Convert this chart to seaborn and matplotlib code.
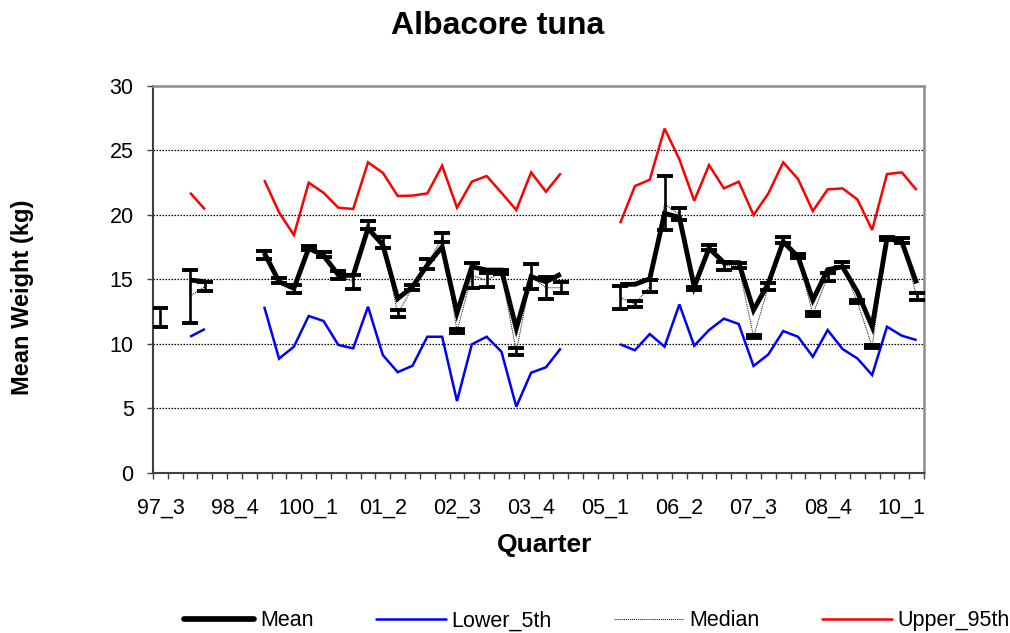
import numpy as np
import pandas as pd
import matplotlib
matplotlib.use("Agg")
import matplotlib.pyplot as plt
import seaborn as sns
from matplotlib.lines import Line2D

nan = np.nan

# ---- categories (quarters 97_3 .. 10_2) ----
years = ["97"] * 2 + ["98"] * 4 + ["99"] * 4 + ["100"] * 4 + ["01"] * 4 + ["02"] * 4 + \
        ["03"] * 4 + ["04"] * 4 + ["05"] * 4 + ["06"] * 4 + ["07"] * 4 + ["08"] * 4 + \
        ["09"] * 4 + ["10"] * 2
qtrs = [3, 4] + [1, 2, 3, 4] * 12 + [1, 2]
quarters = [f"{y}_{q}" for y, q in zip(years, qtrs)]

mean_w = [12.0, nan, 14.95, 14.82, nan, nan, nan, 17.07, 14.82, 14.3,
          17.41, 16.85, 15.34, 15.3, 18.96, 17.67, 13.5, 14.43, 16.11, 17.53,
          12.4, 15.98, 15.72, 15.72, 11.2, 15.21, 14.82, 15.41, nan, nan,
          nan, 14.6, 14.62, 15.04, 20.12, 19.81, 14.43, 17.41, 16.3, 16.3,
          12.62, 14.69, 17.92, 16.76, 13.4, 15.75, 15.98, 14.04, 11.33, 18.18,
          17.92, 14.69]
median_w = [12.0, nan, 13.7, 14.45, nan, nan, nan, 16.9, 14.9, 14.25,
            17.45, 16.95, 15.35, 14.8, 19.2, 17.85, 12.35, 14.35, 16.15, 18.25,
            10.98, 15.3, 14.95, 15.55, 9.4, 15.2, 14.35, 14.35, nan, nan,
            nan, 13.6, 13.08, 14.45, 20.85, 20.05, 14.3, 17.5, 16.05, 16.05,
            10.55, 14.43, 18.05, 16.8, 12.3, 15.2, 16.15, 13.27, 9.78, 18.18,
            18.0, 13.68]
ci_low = [11.3, nan, 11.6, 14.1, nan, nan, nan, 16.6, 14.7, 13.95,
          17.28, 16.76, 15.0, 14.23, 18.88, 17.41, 12.1, 14.17, 15.78, 17.92,
          10.81, 14.31, 14.43, 15.41, 9.13, 14.25, 13.45, 13.96, nan, nan,
          nan, 12.68, 12.83, 13.99, 18.83, 19.6, 14.2, 17.28, 15.72, 15.86,
          10.43, 14.17, 17.84, 16.63, 12.16, 14.9, 15.93, 13.14, 9.65, 18.05,
          17.8, 13.4]
ci_high = [12.8, nan, 15.7, 14.8, nan, nan, nan, 17.2, 15.1, 14.55,
           17.6, 17.15, 15.67, 15.34, 19.55, 18.31, 12.62, 14.56, 16.56, 18.57,
           11.15, 16.3, 15.47, 15.72, 9.65, 16.19, 15.21, 14.77, nan, nan,
           nan, 14.48, 13.32, 14.95, 23.04, 20.51, 14.4, 17.67, 16.37, 16.24,
           10.68, 14.69, 18.26, 16.97, 12.44, 15.47, 16.37, 13.4, 9.91, 18.31,
           18.18, 13.96]
lower_5th = [nan, nan, 10.55, 11.15, nan, nan, nan, 12.88, 8.85, 9.78,
             12.16, 11.77, 9.91, 9.65, 12.88, 9.13, 7.8, 8.3, 10.55, 10.55,
             5.56, 9.96, 10.55, 9.39, 5.12, 7.76, 8.18, 9.65, nan, nan,
             nan, 9.97, 9.5, 10.76, 9.78, 13.06, 9.85, 11.07, 11.95, 11.54,
             8.28, 9.18, 10.99, 10.55, 9.0, 11.07, 9.6, 8.87, 7.58, 11.33,
             10.63, 10.29]
upper_95th = [nan, nan, 21.72, 20.43, nan, nan, nan, 22.71, 20.2, 18.44,
              22.5, 21.72, 20.56, 20.46, 24.08, 23.27, 21.47, 21.5, 21.67, 23.82,
              20.56, 22.58, 23.02, 21.72, 20.38, 23.3, 21.8, 23.23, nan, nan,
              nan, 19.35, 22.24, 22.73, 26.7, 24.31, 21.1, 23.87, 22.06, 22.58,
              19.99, 21.67, 24.08, 22.79, 20.3, 21.98, 22.06, 21.21, 18.83, 23.17,
              23.3, 21.93]

y_ticks = [0, 5, 10, 15, 20, 25, 30]
label_every = 5

# ---- figure ----
sns.set_theme(style="white")
plt.rcParams["font.family"] = ["Liberation Sans", "DejaVu Sans"]
plt.rcParams["text.color"] = "black"
plt.rcParams["axes.labelcolor"] = "black"
plt.rcParams["xtick.color"] = "black"
plt.rcParams["ytick.color"] = "black"

fig = plt.figure(figsize=(10.10, 6.33), dpi=100)
ax = fig.add_axes([0.1515, 0.2532, 0.7634, 0.6109])

x = np.arange(len(quarters))
df = pd.DataFrame({"x": x, "Mean": mean_w, "Lower_5th": lower_5th,
                   "Median": median_w, "Upper_95th": upper_95th,
                   "lo": ci_low, "hi": ci_high})
# segment id so lines break at gaps
valid = df["Mean"].notna()
df["seg"] = (valid != valid.shift()).cumsum()

styles = {
    "Mean": dict(color="black", lw=3.5, ls="-"),
    "Lower_5th": dict(color="#0000ff", lw=1.8, ls="-"),
    "Median": dict(color="black", lw=0.7, ls=(0, (1, 1))),
    "Upper_95th": dict(color="#ff0000", lw=1.8, ls="-"),
}
order = ["Mean", "Lower_5th", "Median", "Upper_95th"]
zo = {"Mean": 3, "Lower_5th": 2, "Median": 4, "Upper_95th": 2}

for name in order:
    st = styles[name]
    for seg, sub in df.groupby("seg"):
        sub = sub.dropna(subset=[name])
        if len(sub) < 2:
            continue
        sns.lineplot(data=sub, x="x", y=name, ax=ax, color=st["color"],
                     linewidth=st["lw"], linestyle=st["ls"], legend=False,
                     zorder=zo[name], solid_joinstyle="miter", solid_capstyle="butt")

# error bars around the median
eb = df.dropna(subset=["Median"])
ax.errorbar(eb["x"], eb["Median"],
            yerr=[eb["Median"] - eb["lo"], eb["hi"] - eb["Median"]],
            fmt="none", ecolor="black", elinewidth=1.9, capsize=5.5, capthick=2.8,
            zorder=5)

# axes styling
ax.set_xlim(-0.5, len(quarters) - 0.5)
ax.set_ylim(0, 30)
ax.set_yticks(y_ticks)
ax.set_yticklabels([str(t) for t in y_ticks])
ax.set_xticks(x[::label_every])
ax.set_xticklabels(quarters[::label_every])
ax.set_xticks(np.arange(-0.5, len(quarters), 1), minor=True)
ax.tick_params(axis="x", which="major", length=0, pad=18, labelsize=15.5)
ax.tick_params(axis="x", which="minor", length=4, width=1, color="#404040",
               direction="out", bottom=True)
ax.tick_params(axis="y", which="major", length=4, width=1, color="#404040",
               direction="out", left=True, pad=10, labelsize=15.5)

for yv in y_ticks[1:-1]:
    ax.axhline(yv, color="black", lw=0.9, ls=(0, (1.2, 1.2)), zorder=1)

for s in ["left", "bottom"]:
    ax.spines[s].set_color("#404040")
    ax.spines[s].set_linewidth(1.5)
for s in ["top", "right"]:
    ax.spines[s].set_color("#8c8c8c")
    ax.spines[s].set_linewidth(1.8)

ax.set_xlabel("")
ax.set_ylabel("")
fig.text(0.539, 0.139, "Quarter", ha="center", va="center",
         fontsize=19, fontweight="bold")
fig.text(0.022, 0.531, "Mean Weight (kg)", ha="center", va="center",
         rotation=90, fontsize=17, fontweight="bold")
fig.text(0.493, 0.959, "Albacore tuna", ha="center", va="center",
         fontsize=23, fontweight="bold")

handles = [Line2D([0], [0], color=styles[n]["color"], lw=styles[n]["lw"] + (0.6 if n == "Mean" else 0),
                  ls=styles[n]["ls"], solid_capstyle="round") for n in order]
fig.legend(handles, order, loc="center", bbox_to_anchor=(0.591, 0.019),
           ncol=4, frameon=False, fontsize=15.5, handlelength=3.25,
           handletextpad=0.25, columnspacing=2.9)

fig.savefig("out.png", dpi=100)
